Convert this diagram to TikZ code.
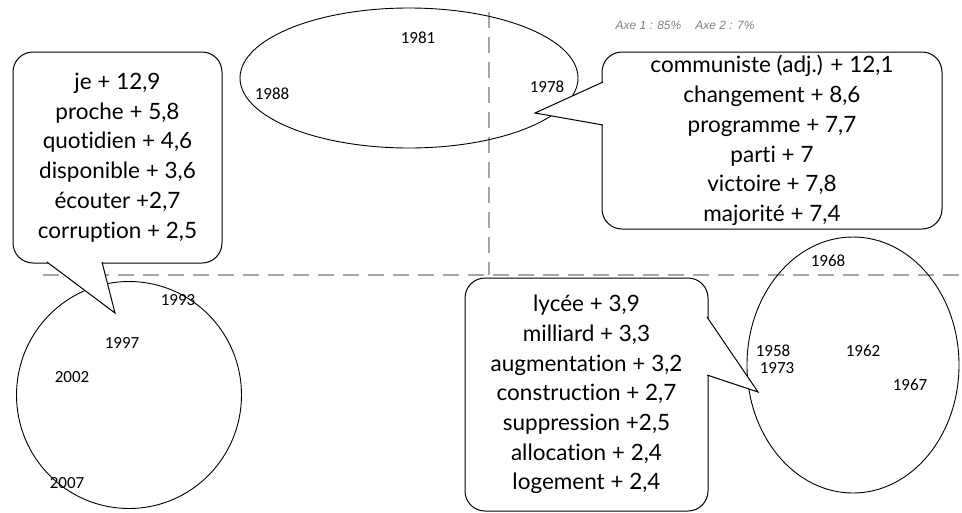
\documentclass[tikz,border=0pt]{standalone}
\usepackage{fontspec}
\setmainfont{Lato}[Ligatures=NoCommon]
\newfontfamily\yearfont{Carlito}
\newfontfamily\axefont{Liberation Sans}
\usetikzlibrary{shapes.geometric}

\begin{document}
\begin{tikzpicture}[%
    x=1pt, y=-1pt,
    bubble/.style={
      rectangle,
      draw=black,
      line width=1pt,
      fill=white,
      align=center,
      rounded corners=20pt,
      inner sep=0pt,
      font=\fontsize{22.5}{29.7}\selectfont
    },
    cloud/.style={
      draw=black,
      line width=0.9pt,
      ellipse,
      inner sep=0pt
    },
    year/.style={
      font=\yearfont\fontsize{17}{17}\selectfont,
      inner sep=0pt
    },
    axis/.style={
      draw=gray!70,
      line width=1.5pt,
      dash pattern=on 16pt off 9pt
    },
    beak/.style={
      draw=black,
      line width=1pt,
      line join=miter
    }
  ]
    \useasboundingbox (0,0) rectangle (962,512);

    % axes
    \coordinate (axeL) at (43,275);
    \coordinate (axeR) at (962,275);
    \coordinate (axeT) at (489,12);
    \coordinate (axeB) at (489,275);
    \draw[axis] (axeL) -- (axeR);
    \draw[axis] (axeT) -- (axeB);
    \node[font=\axefont\itshape\fontsize{12}{12}\selectfont, text=gray] (axes) at (685,25) {Axe 1 : 85\%\hspace{14pt}Axe 2 : 7\%};

    % groups of years
    \draw (409,78) node[cloud, minimum width=338pt, minimum height=140pt] (cloudTop) {};
    \draw (129,395) node[cloud, minimum width=225pt, minimum height=227pt] (cloudLeft) {};
    \draw (853,365) node[cloud, minimum width=212pt, minimum height=256pt] (cloudRight) {};

    \node[year] (y1981) at (418,38) {1981};
    \node[year] (y1988) at (272,94) {1988};
    \node[year] (y1978) at (547,87) {1978};
    \node[year] (y1993) at (178,300) {1993};
    \node[year] (y1997) at (122,343) {1997};
    \node[year] (y2002) at (72,377) {2002};
    \node[year] (y2007) at (67,483) {2007};
    \node[year] (y1968) at (828,261) {1968};
    \node[year] (y1958) at (773,351) {1958};
    \node[year] (y1973) at (777,368) {1973};
    \node[year] (y1962) at (863,351) {1962};
    \node[year] (y1967) at (910,385) {1967};

    % word lists
    \draw (117.5,157.5) node[bubble, minimum width=209pt, minimum height=211pt] (jeBox) {%
      je + 12,9\\ proche + 5,8\\ quotidien + 4,6\\ disponible + 3,6\\ écouter +2,7\\ corruption + 2,5};
    \draw (772,140.5) node[bubble, minimum width=340pt, minimum height=177pt] (comBox) {%
      communiste (adj.) + 12,1\\ changement + 8,6\\ programme + 7,7\\ parti + 7\\ victoire + 7,8\\ majorité + 7,4};
    \draw (586.5,394.5) node[bubble, minimum width=243pt, minimum height=233pt] (lycBox) {%
      lycée + 3,9\\ milliard + 3,3\\ augmentation + 3,2\\ construction + 2,7\\ suppression +2,5\\ allocation + 2,4\\ logement + 2,4};

    % pointers
    \coordinate (jeA) at (47,262);
    \coordinate (jeB) at (102,262);
    \coordinate (jeTip) at (115,313);
    \fill[white] (jeA) -- (jeTip) -- (jeB) -- cycle;
    \draw[beak] (jeA) -- (jeTip) -- (jeB);

    \coordinate (comA) at (603,82);
    \coordinate (comB) at (603,125);
    \coordinate (comTip) at (535,113);
    \fill[white] (comA) -- (comTip) -- (comB) -- cycle;
    \draw[beak] (comA) -- (comTip) -- (comB);

    \coordinate (lycA) at (707,317);
    \coordinate (lycB) at (707,375);
    \coordinate (lycTip) at (758,392);
    \fill[white] (lycA) -- (lycTip) -- (lycB) -- cycle;
    \draw[beak] (lycA) -- (lycTip) -- (lycB);
  \end{tikzpicture}
\end{document}
